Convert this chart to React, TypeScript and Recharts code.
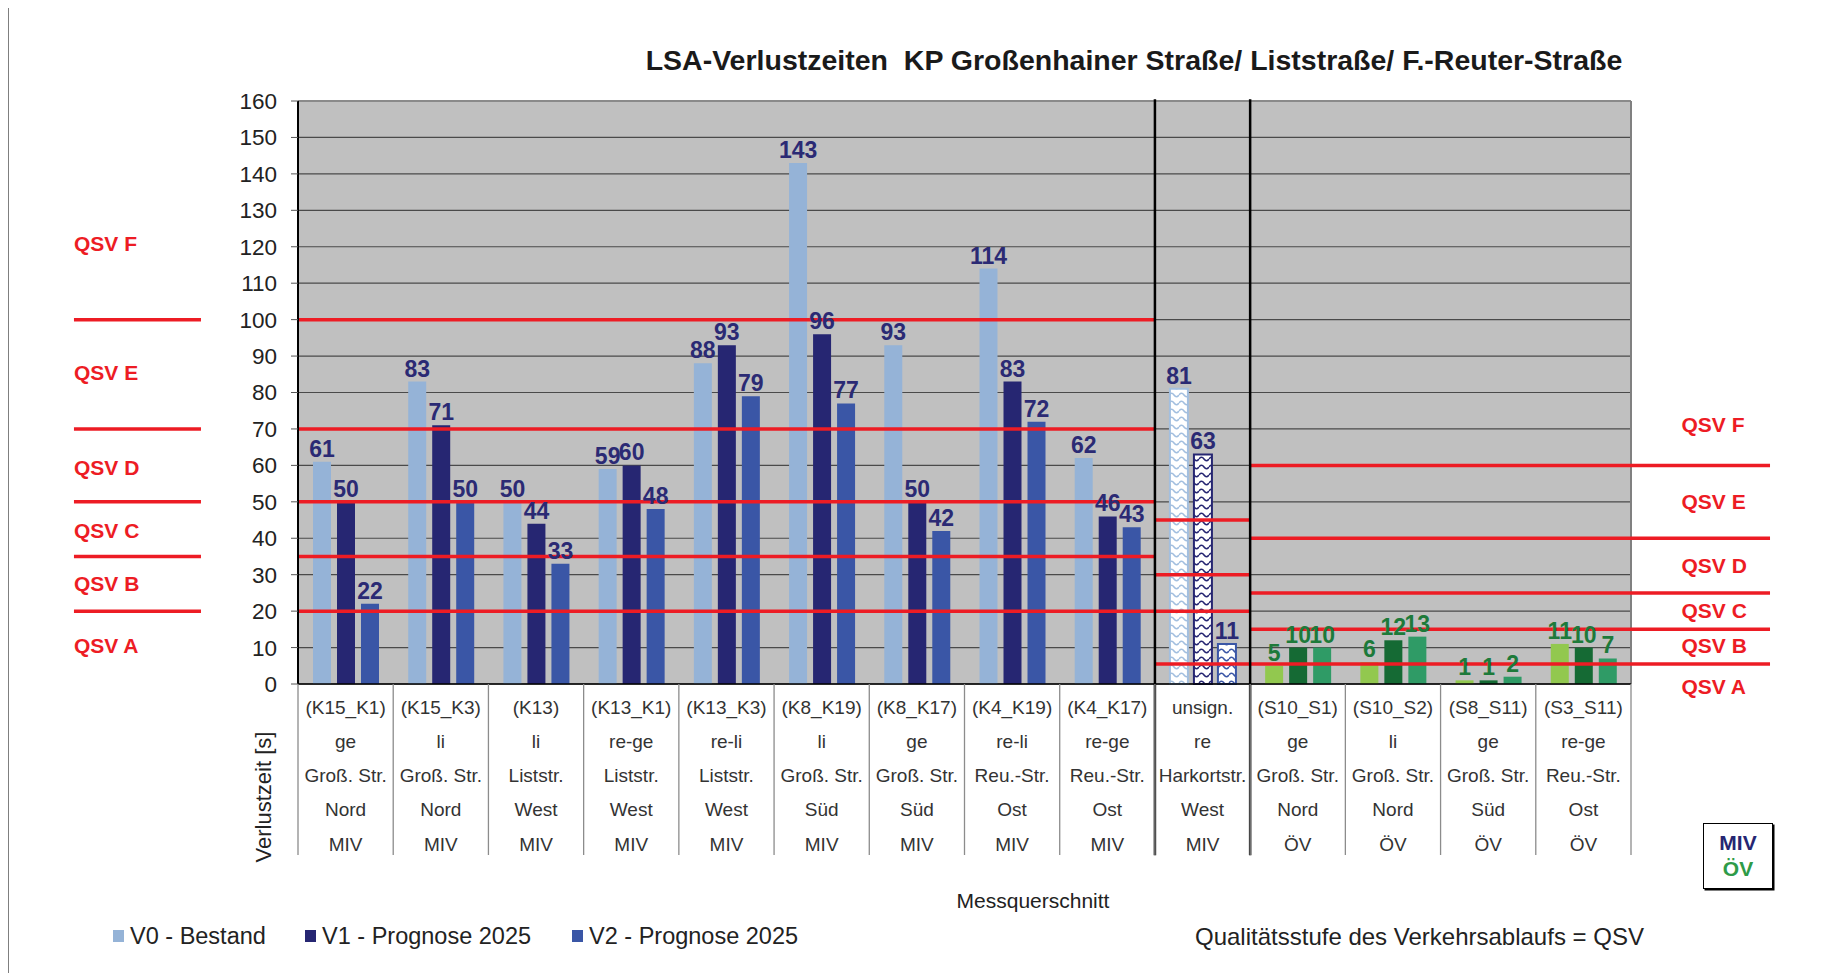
import React from 'react';
import {
  BarChart,
  Bar,
  XAxis,
  YAxis,
  CartesianGrid,
  Legend,
  LabelList,
  Cell,
  ReferenceLine,
  ReferenceDot,
} from 'recharts';

// category axis text, five rows per Messquerschnitt
const codes = ['(K15_K1)', '(K15_K3)', '(K13)', '(K13_K1)', '(K13_K3)', '(K8_K19)', '(K8_K17)', '(K4_K19)', '(K4_K17)', 'unsign.', '(S10_S1)', '(S10_S2)', '(S8_S11)', '(S3_S11)'];
const turns = ['ge', 'li', 'li', 're-ge', 're-li', 'li', 'ge', 're-li', 're-ge', 're', 'ge', 'li', 'ge', 're-ge'];
const streets = ['Groß. Str.', 'Groß. Str.', 'Liststr.', 'Liststr.', 'Liststr.', 'Groß. Str.', 'Groß. Str.', 'Reu.-Str.', 'Reu.-Str.', 'Harkortstr.', 'Groß. Str.', 'Groß. Str.', 'Groß. Str.', 'Reu.-Str.'];
const sides = ['Nord', 'Nord', 'West', 'West', 'West', 'Süd', 'Süd', 'Ost', 'Ost', 'West', 'Nord', 'Nord', 'Süd', 'Ost'];
const modes = ['MIV', 'MIV', 'MIV', 'MIV', 'MIV', 'MIV', 'MIV', 'MIV', 'MIV', 'MIV', 'ÖV', 'ÖV', 'ÖV', 'ÖV'];

// Verlustzeit [s]
const v0 = [61, 83, 50, 59, 88, 143, 93, 114, 62, 81, 5, 6, 1, 11];
const v1 = [50, 71, 44, 60, 93, 96, 50, 83, 46, 63, 10, 12, 1, 10];
const v2 = [22, 50, 33, 48, 79, 77, 42, 72, 43, 11, 10, 13, 2, 7];

const yTicks = [0, 10, 20, 30, 40, 50, 60, 70, 80, 90, 100, 110, 120, 130, 140, 150, 160];

// QSV limits per section
const qsvMiv = [20, 35, 50, 70, 100];
const qsvUnsig = [20, 30, 45];
const qsvOev = [15, 25, 40, 60];
const qsvLowest = 5.5;
const qsvNames = ['QSV A', 'QSV B', 'QSV C', 'QSV D', 'QSV E', 'QSV F'];
const qsvLeftY = [10.5, 27.6, 42.2, 59.3, 85.5, 121];
const qsvRightY = [-0.8, 10.5, 20.2, 32.5, 50.2, 71.3];

const RED = '#ed1c24';
const NAVY = '#2b2a74';
const GREEN = '#1d7a3a';

const W = 1839;
const H = 960;
const M = { top: 94, left: 229, right: 217, bottom: 83 };
const Y_W = 60;
const PLOT_W = W - M.left - Y_W - M.right;
const BAND = PLOT_W / codes.length;

// x positions on the hidden index axis (0..14 = plot width)
const LEFT_KEY = [-2.353, -1.019];
const RIGHT_END = 15.46;
const LABEL_RIGHT_X = 14.53;

const series = [
  { key: 'v0', name: 'V0 - Bestand', miv: '#95b3d7', oev: '#92c84f', pattern: 'url(#wave0)', edge: '#a3bfdf' },
  { key: 'v1', name: 'V1 - Prognose 2025', miv: '#262672', oev: '#156a34', pattern: 'url(#wave1)', edge: '#262672' },
  { key: 'v2', name: 'V2 - Prognose 2025', miv: '#3a56a6', oev: '#2f9b66', pattern: 'url(#wave2)', edge: '#3a56a6' },
];

const vals: Record<string, number[]> = { v0, v1, v2 };

const rows = codes.map((code, i) => {
  const r: any = { code, pos: i + 0.5 };
  series.forEach((s) => {
    const v = vals[s.key][i];
    r[s.key] = v;
    r[s.key + 'm'] = modes[i] === 'MIV' ? v : null;
    r[s.key + 'o'] = modes[i] === 'ÖV' ? v : null;
  });
  return r;
});

const CategoryTick = (props: any) => {
  const { x, y, payload } = props;
  const i = props.index ?? codes.indexOf(payload.value);
  const half = BAND / 2;
  const lines = [codes[i], turns[i], streets[i], sides[i], modes[i]];
  return (
    <g>
      <line x1={x - half} x2={x - half} y1={y} y2={y + 171} stroke="#8c8c8c" strokeWidth={1.3} />
      {i === codes.length - 1 && (
        <line x1={x + half} x2={x + half} y1={y} y2={y + 171} stroke="#8c8c8c" strokeWidth={1.3} />
      )}
      {lines.map((t, k) => (
        <text key={k} x={x} y={y + 23 + k * 34.3} textAnchor="middle" dominantBaseline="central" fontSize={19} fill="#333">
          {t}
        </text>
      ))}
    </g>
  );
};

const widths = [192, 267, 260];
const renderLegend = (props: any) => {
  const payload = props.payload || [];
  return (
    <div style={{ display: 'flex', fontSize: 23.5, color: '#222', lineHeight: '28px' }}>
      {payload.map((e: any, i: number) => (
        <div key={i} style={{ display: 'flex', alignItems: 'center', width: widths[i] }}>
          <span style={{ display: 'inline-block', width: 11, height: 12, background: e.color, marginRight: 6 }} />
          <span>{e.value}</span>
        </div>
      ))}
    </div>
  );
};

const wave = (id: string, color: string) => (
  <pattern id={id} patternUnits="userSpaceOnUse" width={10} height={8}>
    <rect width={10} height={8} fill="#fff" />
    <path d="M0 4 Q2.5 0.5 5 4 T10 4" stroke={color} strokeWidth={1.6} fill="none" />
  </pattern>
);

const redSeg = (key: string, y: number, x1: number, x2: number) => (
  <ReferenceLine
    key={key}
    xAxisId="n"
    segment={[{ x: x1, y }, { x: x2, y }]}
    stroke={RED}
    strokeWidth={3.5}
    ifOverflow="visible"
  />
);

const qsvLabel = (key: string, x: number, y: number, text: string) => (
  <ReferenceDot
    key={key}
    xAxisId="n"
    x={x}
    y={y}
    r={0}
    fill="none"
    stroke="none"
    ifOverflow="visible"
    label={{ value: text, position: 'right', offset: 0, fill: RED, fontSize: 21, fontWeight: 'bold' }}
  />
);

export default function App() {
  return (
    <div
      style={{
        position: 'relative',
        width: W,
        height: 966,
        marginTop: -2,
        borderLeft: '1px solid #7f7f7f',
        borderTop: '1px solid #7f7f7f',
        fontFamily: "'Liberation Sans', Arial, sans-serif",
      }}
    >
      <svg width={0} height={0} style={{ position: 'absolute' }}>
        <defs>
          {wave('wave0', '#a3bfdf')}
          {wave('wave1', '#262672')}
          {wave('wave2', '#3a56a6')}
        </defs>
      </svg>

      <BarChart width={W} height={H} data={rows} margin={M} barSize={18} barGap={6}>
        <CartesianGrid vertical={false} stroke="#4a4a4a" strokeWidth={1.2} fill="#c0c0c0" />
        <XAxis
          dataKey="code"
          interval={0}
          height={200}
          tickSize={0}
          tickMargin={0}
          tickLine={false}
          axisLine={{ stroke: '#000', strokeWidth: 1.5 }}
          tick={<CategoryTick />}
        />
        <XAxis xAxisId="n" dataKey="pos" type="number" domain={[0, 14]} allowDataOverflow hide />
        <YAxis
          width={Y_W}
          domain={[0, 160]}
          ticks={yTicks}
          interval={0}
          tickSize={7}
          tickMargin={14}
          tickLine={{ stroke: '#555' }}
          axisLine={{ stroke: '#000', strokeWidth: 2 }}
          tick={{ fontSize: 22.5, fill: '#222' }}
        />
        <Legend
          verticalAlign="middle"
          align="center"
          layout="horizontal"
          wrapperStyle={{ left: 104, top: 915, width: 760, height: 28 }}
          content={renderLegend}
        />
        {series.map((s) => (
          <Bar key={s.key} dataKey={s.key} name={s.name} fill={s.miv} isAnimationActive={false}>
            {rows.map((r, i) => {
              const unsig = codes[i] === 'unsign.';
              const fill = unsig ? s.pattern : modes[i] === 'ÖV' ? s.oev : s.miv;
              return (
                <Cell
                  key={i}
                  fill={fill}
                  stroke={unsig ? s.edge : 'none'}
                  strokeWidth={unsig ? 2 : 0}
                />
              );
            })}
            <LabelList dataKey={s.key + 'm'} position="top" offset={5} fill={NAVY} fontSize={23} fontWeight="bold" />
            <LabelList dataKey={s.key + 'o'} position="top" offset={5} fill={GREEN} fontSize={23} fontWeight="bold" />
          </Bar>
        ))}

        <ReferenceLine y={160} stroke="#8a8a8a" strokeWidth={2} />
        <ReferenceLine xAxisId="n" x={14} stroke="#808080" strokeWidth={2} />

        {qsvMiv.map((y) => redSeg('m' + y, y, 0, 9))}
        {qsvMiv.map((y) => redSeg('k' + y, y, LEFT_KEY[0], LEFT_KEY[1]))}
        {qsvUnsig.map((y) => redSeg('u' + y, y, 9, 10))}
        {qsvOev.map((y) => redSeg('o' + y, y, 10, RIGHT_END))}
        {redSeg('low', qsvLowest, 9, RIGHT_END)}

        <ReferenceLine xAxisId="n" segment={[{ x: 9, y: 160.5 }, { x: 9, y: -47 }]} stroke="#000" strokeWidth={2.5} ifOverflow="visible" />
        <ReferenceLine xAxisId="n" segment={[{ x: 10, y: 160.5 }, { x: 10, y: -47 }]} stroke="#000" strokeWidth={2.5} ifOverflow="visible" />

        {qsvNames.map((t, i) => qsvLabel('l' + i, LEFT_KEY[0], qsvLeftY[i], t))}
        {qsvNames.map((t, i) => qsvLabel('r' + i, LABEL_RIGHT_X, qsvRightY[i], t))}
      </BarChart>

      <div
        style={{
          position: 'absolute',
          left: 1125,
          top: 53,
          transform: 'translate(-50%, -50%)',
          whiteSpace: 'nowrap',
          fontSize: 28.5,
          fontWeight: 'bold',
          color: '#1a1a1a',
        }}
      >
        LSA-Verlustzeiten&nbsp;&nbsp;KP Großenhainer Straße/ Liststraße/ F.-Reuter-Straße
      </div>
      <div
        style={{
          position: 'absolute',
          left: 1024,
          top: 894,
          transform: 'translate(-50%, -50%)',
          whiteSpace: 'nowrap',
          fontSize: 21,
          color: '#222',
        }}
      >
        Messquerschnitt
      </div>
      <div
        style={{
          position: 'absolute',
          left: 255,
          top: 790,
          transform: 'translate(-50%, -50%) rotate(-90deg)',
          whiteSpace: 'nowrap',
          fontSize: 22,
          color: '#222',
        }}
      >
        Verlustzeit [s]
      </div>
      <div
        style={{
          position: 'absolute',
          left: 1186,
          top: 930,
          transform: 'translateY(-50%)',
          whiteSpace: 'nowrap',
          fontSize: 24,
          color: '#222',
        }}
      >
        Qualitätsstufe des Verkehrsablaufs = QSV
      </div>
      <div
        style={{
          position: 'absolute',
          left: 1694,
          top: 816,
          width: 70,
          height: 66,
          boxSizing: 'border-box',
          border: '1.5px solid #000',
          boxShadow: '1.5px 1.5px 0 #000',
          background: '#fff',
          display: 'flex',
          flexDirection: 'column',
          alignItems: 'center',
          justifyContent: 'center',
          fontSize: 21,
          fontWeight: 'bold',
          lineHeight: '26px',
        }}
      >
        <span style={{ color: '#262672' }}>MIV</span>
        <span style={{ color: '#2e9b48' }}>ÖV</span>
      </div>
    </div>
  );
}
